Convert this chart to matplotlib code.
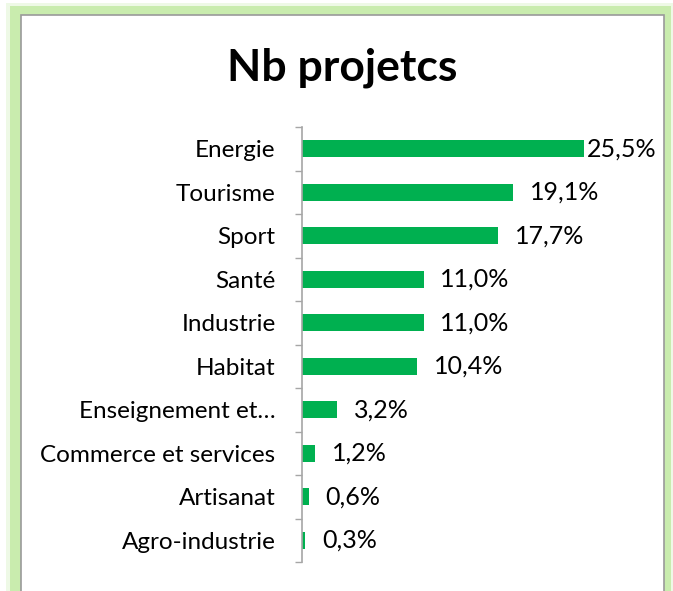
import matplotlib
matplotlib.use("Agg")
import matplotlib.pyplot as plt
from matplotlib.patches import Rectangle
import numpy as np

categories = ["Energie", "Tourisme", "Sport", "Santé", "Industrie", "Habitat",
              "Enseignement et…", "Commerce et services", "Artisanat", "Agro-industrie"]
values = [25.5, 19.1, 17.7, 11.0, 11.0, 10.4, 3.2, 1.2, 0.6, 0.3]
labels = ["25,5%", "19,1%", "17,7%", "11,0%", "11,0%", "10,4%", "3,2%", "1,2%", "0,6%", "0,3%"]

plt.rcParams['font.family'] = ['Lato', 'DejaVu Sans']

W, H = 673, 591
fig = plt.figure(figsize=(W / 100, H / 100), dpi=100)


def px_rect(x0, y0, x1, y1, **kw):
    # rectangle given in pixels from top-left
    return Rectangle((x0 / W, 1 - y1 / H), (x1 - x0) / W, (y1 - y0) / H,
                     transform=fig.transFigure, zorder=-10, **kw)


# glow frame round the chart panel
fig.patches.append(px_rect(6, 3, 673, 600, facecolor="#eef9e6", edgecolor="none"))
fig.patches.append(px_rect(10, 6, 671, 600, facecolor="#c9ecae", edgecolor="none"))
fig.patches.append(px_rect(21, 15, 664, 600, facecolor="white", edgecolor="#9a9a9a", linewidth=1.2))

fig.text(342 / W, 1 - 68 / H, "Nb projetcs", ha="center", va="center",
         fontsize=32, fontweight="bold", color="black")

ax = fig.add_axes([302 / W, 1 - 562 / H, (634 - 302) / W, (562 - 127) / H])
ax.set_facecolor("none")

y = np.arange(len(categories))
ax.barh(y, values, height=0.4, color="#00B050")
ax.set_xlim(0, 30)
ax.set_ylim(len(categories) - 0.5, -0.5)

ax.set_yticks(y)
ax.set_yticklabels(categories, fontsize=17.5)
ax.tick_params(axis="y", which="major", length=0, pad=19)
ax.set_yticks(np.arange(-0.5, len(categories), 1), minor=True)
ax.tick_params(axis="y", which="minor", length=5, color="#a6a6a6", width=1)
ax.set_xticks([])

for s in ["top", "right", "bottom"]:
    ax.spines[s].set_visible(False)
ax.spines["left"].set_color("#a6a6a6")
ax.spines["left"].set_linewidth(1.2)

for i, (v, lab) in enumerate(zip(values, labels)):
    off = 2 if v == max(values) else 12
    ax.annotate(lab, (v, i), xytext=(off, 0), textcoords="offset points",
                ha="left", va="center", fontsize=18, annotation_clip=False)

fig.savefig("out.png", dpi=100)
